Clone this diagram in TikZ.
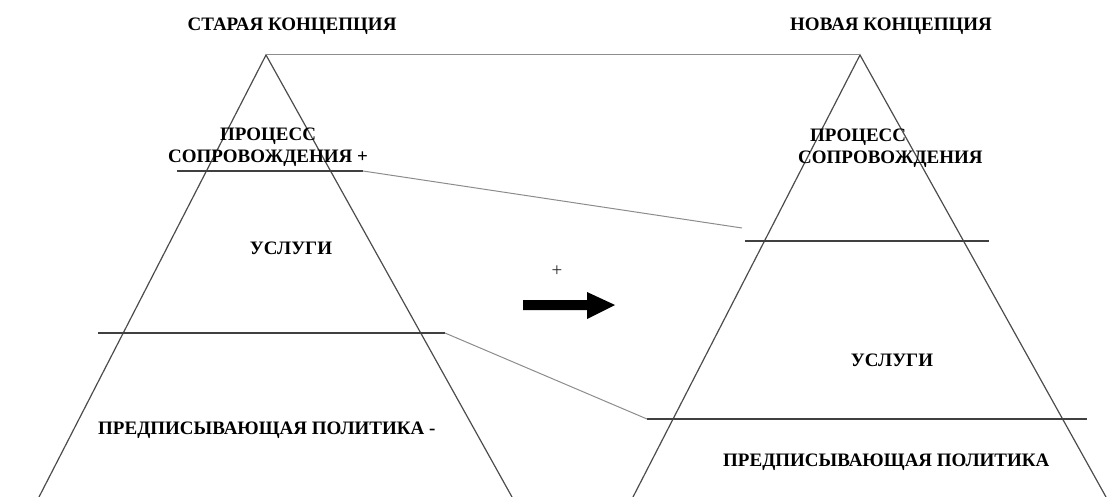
\documentclass[tikz,border=0pt]{standalone}
\usepackage{fontspec}
\setmainfont{Liberation Serif}
\begin{document}
\begin{tikzpicture}[x=1pt,y=-1pt,
  lbl/.style={inner sep=0pt,font=\bfseries\fontsize{19}{22}\selectfont,text=black},
  side/.style={draw=black!70,line width=1.2pt},
  level/.style={draw=black!75,line width=1.2pt},
  link/.style={draw=black!45,line width=1pt},
  bigarrow/.style={fill=black,draw=none}]
\useasboundingbox (0,0) rectangle (1113,497);

% old pyramid
\coordinate (oa) at (266,55);
\coordinate (ol) at (39,497);
\coordinate (or) at (512,497);
\draw[side] (ol) -- (oa) -- (or);

% new pyramid
\coordinate (na) at (860,55);
\coordinate (nl) at (633,497);
\coordinate (nr) at (1106,497);
\draw[side] (nl) -- (na) -- (nr);

% apex link
\draw[link] (oa) -- (na);

% level lines of the old pyramid
\coordinate (ou1) at (177,171);
\coordinate (ou2) at (363,171);
\draw[draw=black!75,line width=1.8pt] (ou1) -- (ou2);
\coordinate (ob1) at (98,333);
\coordinate (ob2) at (445,333);
\draw[level] (ob1) -- (ob2);

% level lines of the new pyramid
\coordinate (nu0) at (742,228);
\coordinate (nu1) at (745,241);
\coordinate (nu2) at (989,241);
\draw[level] (nu1) -- (nu2);
\coordinate (nb1) at (647,419);
\coordinate (nb2) at (1087,419);
\draw[level] (nb1) -- (nb2);

% links between levels
\draw[link] (ou2) -- (nu0);
\draw[link] (ob2) -- (nb1);

% titles
\node[lbl,anchor=base] (t1) at (292,31) {СТАРАЯ КОНЦЕПЦИЯ};
\node[lbl,anchor=base] (t2) at (891,31) {НОВАЯ КОНЦЕПЦИЯ};

% old pyramid labels
\node[lbl,anchor=base] (op1) at (268,141) {ПРОЦЕСС};
\node[lbl,anchor=base] (op2) at (268,163) {СОПРОВОЖДЕНИЯ +};
\node[lbl,anchor=base] (os) at (291,254) {УСЛУГИ};
\node[lbl,anchor=base west] (opp) at (98,434) {ПРЕДПИСЫВАЮЩАЯ ПОЛИТИКА -};

% new pyramid labels
\node[lbl,anchor=base west] (np1) at (810,142) {ПРОЦЕСС};
\node[lbl,anchor=base west] (np2) at (798,164) {СОПРОВОЖДЕНИЯ};
\node[lbl,anchor=base] (ns) at (892,366) {УСЛУГИ};
\node[lbl,anchor=base west] (npp) at (723,466) {ПРЕДПИСЫВАЮЩАЯ ПОЛИТИКА};

% transition arrow
\node[inner sep=0pt,font=\fontsize{19}{22}\selectfont,text=black!85] (plus) at (557,271) {+};
\fill[bigarrow] (523,300) -- (587,300) -- (587,292) -- (615,305) -- (587,319) -- (587,310) -- (523,310) -- cycle;
\end{tikzpicture}
\end{document}
